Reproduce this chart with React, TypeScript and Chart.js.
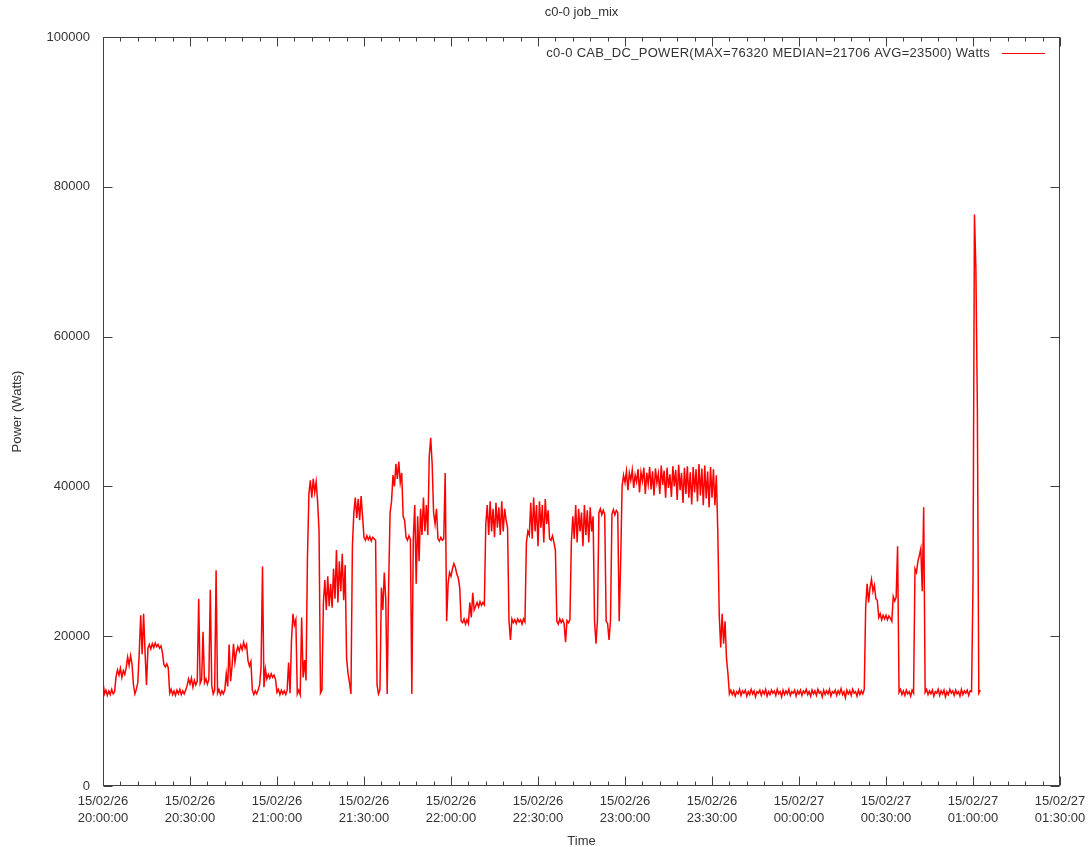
import { useEffect, useRef } from "react";
import { Chart, registerables } from "chart.js";

Chart.register(...registerables);

// ---- data ----
const chartTitle = "c0-0 job_mix";
const seriesLabel = "c0-0 CAB_DC_POWER(MAX=76320 MEDIAN=21706 AVG=23500) Watts";
const xAxisTitle = "Time";
const yAxisTitle = "Power (Watts)";

// minutes after 15/02/26 20:00:00 for each major tick
const xTickMinutes = [0, 30, 60, 90, 120, 150, 180, 210, 240, 270, 300, 330];
const xTickDates = ["15/02/26", "15/02/26", "15/02/26", "15/02/26", "15/02/26", "15/02/26", "15/02/26", "15/02/26", "15/02/27", "15/02/27", "15/02/27", "15/02/27"];
const xTickTimes = ["20:00:00", "20:30:00", "21:00:00", "21:30:00", "22:00:00", "22:30:00", "23:00:00", "23:30:00", "00:00:00", "00:30:00", "01:00:00", "01:30:00"];
const yTicks = [0, 20000, 40000, 60000, 80000, 100000];

// samples every 0.5 min, one array per half hour (Watts)
const sampleStepMin = 0.5;
const p2000 = [
  13900, 12300, 12800, 12100, 12700, 12200, 12900, 12300, 12600, 14600,
  15500, 14800, 15700, 14500, 15400, 14900, 15800, 17200, 16100, 17400,
  16300, 13500, 12300, 12900, 13800, 17800, 22800, 17600, 23000, 17900,
  13500, 18400, 18900, 18300, 19000, 18500, 19100, 18600, 18900, 18400,
  18700, 17800, 16200, 15900, 16300, 15800, 12400, 12900, 12200, 12700,
  12100, 12800, 12300, 12900, 12200, 12700, 12300, 12800, 13400, 14300,
];
const p2030 = [
  13600, 14400, 13200, 14100, 13500, 14000, 25000, 13700, 14200, 20600,
  13800, 14300, 13600, 14200, 26200, 13400, 12300, 12800, 28800, 12400,
  12900, 12200, 12700, 12300, 12800, 15000, 13300, 18900, 14000, 16000,
  19000, 16500, 17900, 18600, 18000, 18800, 18200, 19200, 18400, 18900,
  16700, 16000, 16600, 12800, 12200, 12700, 12300, 12800, 13500, 15800,
  29300, 13200, 15600, 14300, 14900, 14400, 15000, 14500, 14800, 14200,
];
const p2100 = [
  12500, 12900, 12200, 12800, 12300, 12700, 12200, 12800, 16500, 12400,
  19500, 23000, 21500, 22200, 12300, 12800, 12200, 22500, 14500, 16800,
  14100, 30500, 39000, 40800, 38500, 41000, 39200, 40600, 38000, 34000,
  12400, 12800, 24500, 27500, 23500, 28000, 24000, 27000, 23800, 29000,
  25000, 31500, 24500, 30000, 26000, 31000, 24800, 29500, 17000, 15000,
  13800, 12300, 32000, 36500, 38500, 35800, 38300, 35500, 38700, 36000,
];
const p2130 = [
  33200, 32800, 33400, 32900, 33300, 32700, 33200, 33000, 32800, 13500,
  12300, 12800, 26500, 23500, 28500, 25000, 12300, 27000, 36500, 38000,
  41500, 40000, 43000, 41000, 43300, 40500, 41800, 36000, 35500, 33200,
  32800, 33400, 32900, 12300, 33000, 37500, 27000, 36000, 30000, 37000,
  33500, 38500, 34000, 37500, 33500, 44000, 46500, 43000, 36500, 35000,
  37000, 33000, 32700, 33200, 32800, 33000, 41800, 22000, 27000, 28500,
];
const p2200 = [
  28000, 29000, 29700, 29200, 28300, 27800, 26500, 22000, 21800, 22300,
  21600, 22200, 21700, 24500, 22500, 25800, 23500, 24000, 24500, 23900,
  24600, 24100, 24500, 24200, 35000, 37500, 33500, 38000, 34000, 37000,
  33200, 37800, 34500, 37200, 33500, 38000, 34000, 37000, 35500, 34500,
  22000, 19500, 22300, 21800, 22200, 21700, 22300, 21900, 22200, 21600,
  22300, 21900, 32500, 34000, 33500, 37800, 33000, 38500, 34000, 37500,
];
const p2230 = [
  32000, 38000, 34500, 37500, 32500, 38300, 35000, 36800, 33000, 32800,
  33400, 32500, 31500, 22000, 21600, 22300, 21800, 22200, 21700, 19200,
  22100, 21800, 22200, 32500, 36000, 33000, 37500, 32500, 37000, 34000,
  36500, 32000, 37500, 33500, 36800, 32500, 37200, 34000, 36000, 22000,
  19000, 22200, 36500, 37000, 36200, 36800, 36300, 22000, 21700, 19500,
  22100, 36300, 36900, 36200, 36800, 36500, 22000, 30000, 40000, 41500,
];
const p2300 = [
  40500, 42000, 39500, 41800, 40800, 42200, 39800, 41500, 40600, 42300,
  39200, 41900, 40700, 42500, 39000, 41800, 40300, 42600, 39600, 42000,
  38800, 42400, 40500, 41700, 39000, 42800, 40200, 42100, 38500, 42500,
  39800, 41600, 38600, 42700, 40000, 42200, 38200, 42900, 39500, 41800,
  37800, 42500, 39000, 42700, 38500, 41900, 37600, 42600, 39200, 42300,
  38000, 43000, 38800, 42400, 37500, 42800, 38400, 42000, 37200, 42600,
];
const p2330 = [
  38500, 42300, 37500, 41500, 34000, 22800, 18500, 23000, 19000, 22000,
  17000, 15000, 12300, 12800, 12200, 12700, 12000, 12600, 12300, 12900,
  12100, 12700, 12400, 12800, 12000, 12600, 12200, 12900, 12300, 12700,
  11900, 12600, 12400, 12800, 12100, 12700, 12300, 12900, 12000, 12600,
  12200, 12800, 12400, 12700, 12100, 12900, 12300, 12600, 11900, 12800,
  12200, 12700, 12300, 12900, 12100, 12600, 12400, 12800, 12000, 12700,
];
const p0000 = [
  12300, 12800, 12100, 12700, 12400, 12900, 12200, 12600, 12000, 12800,
  12300, 12700, 12100, 12900, 12400, 12600, 11900, 12800, 12200, 12700,
  12300, 12900, 12000, 12600, 12400, 12800, 12100, 12700, 12300, 13000,
  12200, 12600, 11800, 12800, 12300, 12700, 12100, 12900, 12400, 12600,
  12000, 12800, 12200, 12700, 12300, 12900, 24000, 27000, 24500, 26500,
  27600, 26000, 26800, 25000, 24800, 22500, 23000, 22200, 22800, 22300,
];
const p0030 = [
  22800, 22200, 22700, 22400, 22000, 25300, 24700, 25200, 32000, 12500,
  12900, 12200, 12700, 12100, 12800, 12300, 12600, 12000, 12800, 12400,
  29000, 28500, 30000, 30800, 31700, 26000, 37200, 12500, 12900, 12200,
  12700, 12300, 12800, 12000, 12600, 12400, 12900, 12100, 12700, 12300,
  12800, 11900, 12600, 12200, 12900, 12400, 12700, 12100, 12800, 12300,
  12600, 12000, 12900, 12200, 12700, 12400, 12800, 12100, 12700, 12600,
];
const p0100 = [27000, 76300, 69000, 50600, 12400, 12800];

const halfHourSeries = [p2000, p2030, p2100, p2130, p2200, p2230, p2300, p2330, p0000, p0030, p0100];

const FONT = '"Liberation Sans", Arial, sans-serif';
const TEXT = "#333333";
const AXIS = "#404040";

function buildPoints() {
  const pts: { x: number; y: number }[] = [];
  halfHourSeries.forEach((seg, k) => {
    seg.forEach((v, i) => pts.push({ x: k * 30 + i * sampleStepMin, y: v }));
  });
  return pts;
}

const framePlugin = {
  id: "gnuFrame",
  afterDraw(chart: any) {
    const { ctx, chartArea: a, scales } = chart;
    const xs = scales.x;
    const ys = scales.y;
    const L = Math.round(a.left) + 0.5;
    const R = Math.round(a.right) - 0.5;
    const T = Math.round(a.top) + 0.5;
    const B = Math.round(a.bottom) - 0.5;
    ctx.save();
    ctx.strokeStyle = AXIS;
    ctx.lineWidth = 1;
    ctx.strokeRect(L, T, R - L, B - T);
    ctx.beginPath();
    const first = xTickMinutes[0];
    const last = xTickMinutes[xTickMinutes.length - 1];
    for (let m = first; m <= last; m += 6) {
      const px = Math.round(xs.getPixelForValue(m)) + 0.5;
      const len = m % 30 === 0 ? 9 : 4;
      ctx.moveTo(px, B);
      ctx.lineTo(px, B - len);
      ctx.moveTo(px, T);
      ctx.lineTo(px, T + len);
    }
    yTicks.forEach((v) => {
      const py = Math.round(ys.getPixelForValue(v)) + 0.5;
      ctx.moveTo(L, py);
      ctx.lineTo(L + 9, py);
      ctx.moveTo(R, py);
      ctx.lineTo(R - 9, py);
    });
    ctx.stroke();

    ctx.fillStyle = TEXT;
    ctx.font = `13px ${FONT}`;
    ctx.textAlign = "center";
    ctx.textBaseline = "middle";
    const cx = (a.left + a.right) / 2;
    ctx.fillText(chartTitle, cx, 12);
    ctx.fillText(xAxisTitle, cx, 841);
    ctx.save();
    ctx.translate(17, (a.top + a.bottom) / 2);
    ctx.rotate(-Math.PI / 2);
    ctx.fillText(yAxisTitle, 0, 0);
    ctx.restore();

    ctx.textAlign = "right";
    (ctx as any).letterSpacing = "0.3px";
    ctx.fillText(seriesLabel, 990, 53);
    (ctx as any).letterSpacing = "0px";
    ctx.strokeStyle = "#ff0000";
    ctx.beginPath();
    ctx.moveTo(1002, 53.5);
    ctx.lineTo(1045, 53.5);
    ctx.stroke();
    ctx.restore();
  },
};

export default function App() {
  const ref = useRef<HTMLCanvasElement | null>(null);
  useEffect(() => {
    document.body.style.margin = "0";
    const canvas = ref.current;
    if (!canvas) return;
    const chart = new Chart(canvas, {
      type: "line",
      data: {
        datasets: [
          {
            label: seriesLabel,
            data: buildPoints(),
            borderColor: "#ff0000",
            borderWidth: 1.5,
            pointRadius: 0,
            tension: 0,
            fill: false,
          },
        ],
      },
      options: {
        animation: false,
        responsive: false,
        devicePixelRatio: 1,
        parsing: false,
        normalized: true,
        layout: { padding: { top: 37, right: 29, left: 0, bottom: 0 } },
        plugins: { legend: { display: false }, title: { display: false }, tooltip: { enabled: false } },
        scales: {
          x: {
            type: "linear",
            min: xTickMinutes[0],
            max: xTickMinutes[xTickMinutes.length - 1],
            grid: { display: false, drawTicks: false },
            border: { display: false },
            afterFit: (s: any) => {
              s.height = 61;
              s.paddingLeft = 0;
              s.paddingRight = 0;
            },
            afterBuildTicks: (s: any) => {
              s.ticks = xTickMinutes.map((v) => ({ value: v }));
            },
            ticks: {
              autoSkip: false,
              maxRotation: 0,
              padding: 7,
              color: TEXT,
              font: { family: FONT, size: 13, lineHeight: 1.3 },
              callback: (v: any) => {
                const i = xTickMinutes.indexOf(Number(v));
                return i >= 0 ? [xTickDates[i], xTickTimes[i]] : "";
              },
            },
          },
          y: {
            type: "linear",
            min: 0,
            max: 100000,
            grid: { display: false, drawTicks: false },
            border: { display: false },
            afterFit: (s: any) => {
              s.width = 103;
              s.paddingTop = 0;
              s.paddingBottom = 0;
            },
            afterBuildTicks: (s: any) => {
              s.ticks = yTicks.map((v) => ({ value: v }));
            },
            ticks: {
              padding: 13,
              color: TEXT,
              font: { family: FONT, size: 13 },
              callback: (v: any) => String(v),
            },
          },
        },
      },
      plugins: [framePlugin],
    } as any);
    return () => chart.destroy();
  }, []);
  return <canvas ref={ref} width={1089} height={847} style={{ display: "block" }} />;
}
